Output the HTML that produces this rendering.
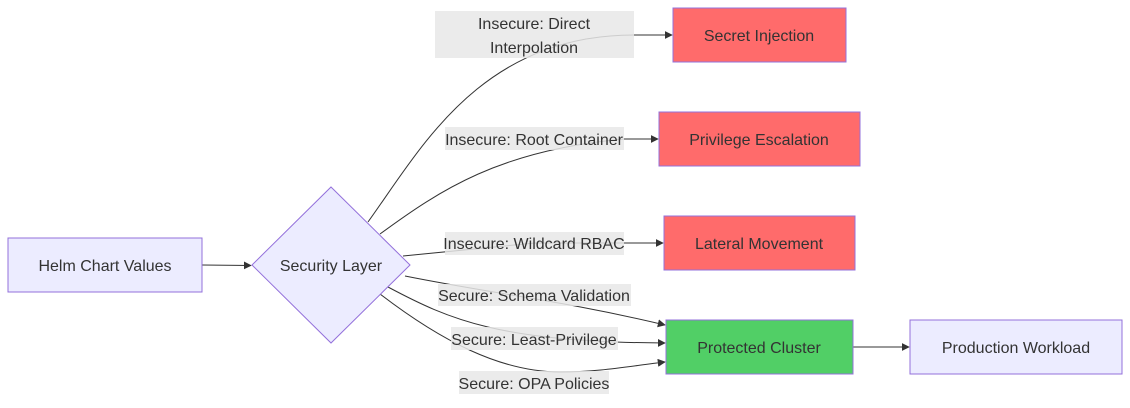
<!DOCTYPE html>
<html><head><style>
body{margin:0;background:#fff;}
text{font-family:"Liberation Sans",sans-serif;font-size:16px;fill:#333;}
</style></head><body>
<svg width="1130" height="403" xmlns="http://www.w3.org/2000/svg">
<defs><marker id="a" viewBox="0 0 10 10" refX="9" refY="5" markerWidth="8" markerHeight="8" orient="auto"><path d="M0,0L10,5L0,10z" fill="#333"/></marker></defs>
<g fill="none" stroke="#333" stroke-width="1">
<path d="M202,265 L251,265.5" marker-end="url(#a)"/>
<path d="M368,222 C420,150 480,35 634,35 L672,35" marker-end="url(#a)"/>
<path d="M380,234 C440,190 500,150 624,139 L658,139" marker-end="url(#a)"/>
<path d="M403,256 L535,243 L663,243" marker-end="url(#a)"/>
<path d="M405,276 C500,295 560,300 665,325" marker-end="url(#a)"/>
<path d="M388,287 C450,320 500,342 665,343" marker-end="url(#a)"/>
<path d="M380,294 C440,340 500,372 560,372 C600,372 630,366 665,362" marker-end="url(#a)"/>
<path d="M853,347 L909,347" marker-end="url(#a)"/>
</g>
<g fill="#e8e8e8" fill-opacity="0.85">
<rect x="435" y="11" width="199" height="47"/>
<rect x="445" y="127" width="179" height="23"/>
<rect x="445" y="232" width="179" height="23"/>
<rect x="438" y="284" width="193" height="22"/>
<rect x="451" y="327" width="167" height="23"/>
<rect x="459" y="371" width="150" height="23"/>
</g>
<g text-anchor="middle">
<text x="534" y="29">Insecure: Direct</text>
<text x="534" y="53">Interpolation</text>
<text x="534" y="145">Insecure: Root Container</text>
<text x="534" y="249">Insecure: Wildcard RBAC</text>
<text x="534" y="301">Secure: Schema Validation</text>
<text x="534" y="345">Secure: Least-Privilege</text>
<text x="534" y="389">Secure: OPA Policies</text>
</g>
<g stroke="#9370db" stroke-width="1">
<rect x="8" y="238" width="194" height="54" fill="#ececff"/>
<polygon points="331,187 410,265 331,343 252,265" fill="#ececff"/>
<rect x="673" y="8" width="173" height="54" fill="#ff6b6b"/>
<rect x="659" y="112" width="201" height="54" fill="#ff6b6b"/>
<rect x="664" y="216" width="191" height="54" fill="#ff6b6b"/>
<rect x="666" y="320" width="187" height="54" fill="#51cf66"/>
<rect x="910" y="320" width="212" height="54" fill="#ececff"/>
</g>
<g text-anchor="middle">
<text x="105" y="271">Helm Chart Values</text>
<text x="331" y="271">Security Layer</text>
<text x="759" y="41">Secret Injection</text>
<text x="759" y="145">Privilege Escalation</text>
<text x="759" y="249">Lateral Movement</text>
<text x="759" y="353">Protected Cluster</text>
<text x="1016" y="353">Production Workload</text>
</g>
</svg>
</body></html>
